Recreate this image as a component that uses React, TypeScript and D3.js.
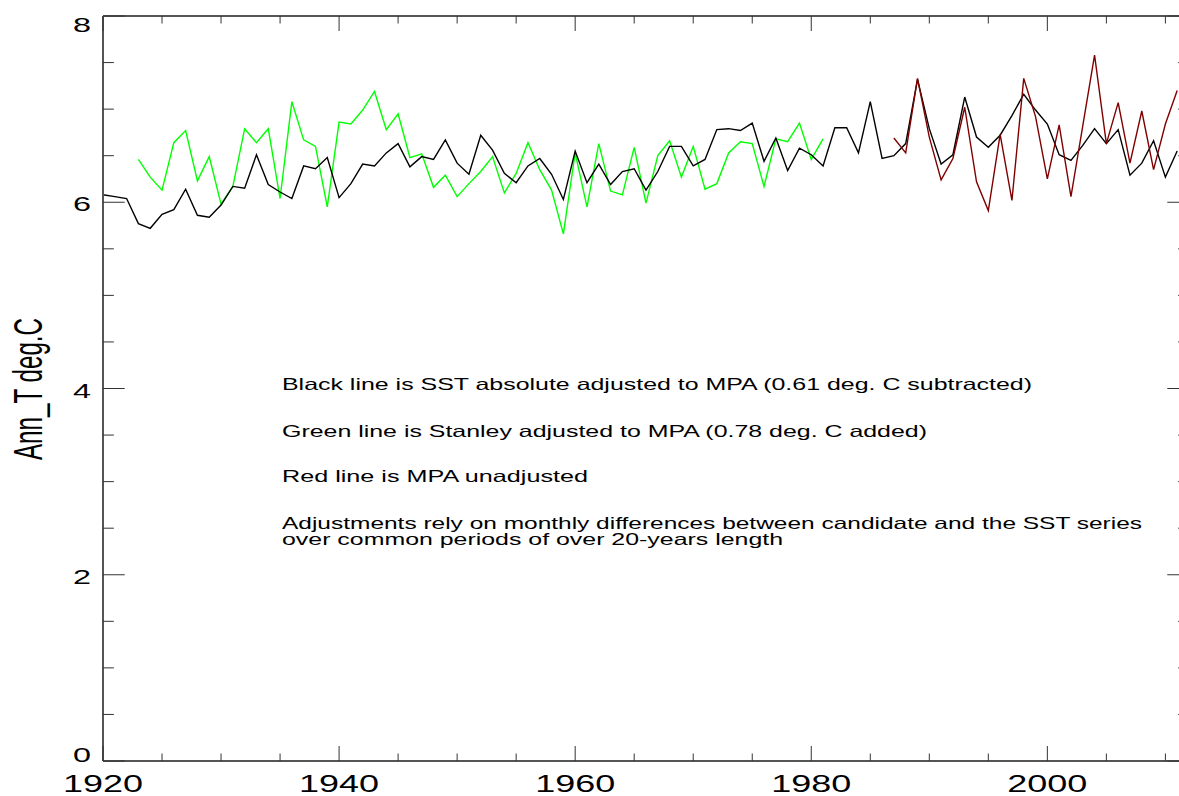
import React from "react";
import * as d3 from "d3";

const blackYears = d3.range(1920, 2012);
const blackValues = [
  6.08, 6.06, 6.04, 5.77, 5.72, 5.87, 5.92, 6.14, 5.86, 5.84,
  5.97, 6.17, 6.15, 6.51, 6.19, 6.11, 6.04, 6.39, 6.36, 6.48,
  6.05, 6.20, 6.41, 6.39, 6.53, 6.63, 6.38, 6.49, 6.46, 6.67,
  6.42, 6.30, 6.72, 6.56, 6.31, 6.21, 6.39, 6.47, 6.30, 6.03,
  6.55, 6.21, 6.41, 6.19, 6.33, 6.36, 6.13, 6.33, 6.60, 6.60,
  6.39, 6.46, 6.78, 6.79, 6.77, 6.85, 6.44, 6.69, 6.34, 6.58,
  6.51, 6.39, 6.80, 6.80, 6.53, 7.08, 6.47, 6.50, 6.63, 7.32,
  6.79, 6.41, 6.51, 7.13, 6.70, 6.59, 6.72, 6.93, 7.16, 6.99,
  6.84, 6.51, 6.45, 6.61, 6.79, 6.63, 6.78, 6.29, 6.42, 6.66,
  6.27, 6.55,
];

const greenYears = d3.range(1923, 1982);
const greenValues = [
  6.46, 6.27, 6.13, 6.64, 6.77, 6.23, 6.49, 5.98, 6.17, 6.79,
  6.64, 6.79, 6.04, 7.08, 6.67, 6.60, 5.95, 6.86, 6.84, 6.99,
  7.19, 6.78, 6.95, 6.48, 6.52, 6.16, 6.29, 6.06, 6.20, 6.33,
  6.49, 6.10, 6.31, 6.64, 6.35, 6.13, 5.66, 6.53, 5.95, 6.63,
  6.12, 6.08, 6.59, 5.99, 6.50, 6.66, 6.27, 6.60, 6.14, 6.20,
  6.53, 6.65, 6.63, 6.17, 6.68, 6.65, 6.85, 6.46, 6.68,
];

const redYears = d3.range(1987, 2012);
const redValues = [
  6.69, 6.53, 7.33, 6.70, 6.24, 6.47, 7.02, 6.22, 5.91, 6.73,
  6.02, 7.33, 6.92, 6.25, 6.83, 6.06, 6.82, 7.58, 6.63, 7.07,
  6.42, 6.98, 6.35, 6.84, 7.20,
];

const xMajorTicks = [1920, 1940, 1960, 1980, 2000];
const xMinorTicks = d3.range(1920, 2013, 5);
const yMajorTicks = [0, 2, 4, 6, 8];
const yMinorTicks = d3.range(0, 8.01, 0.5);

const notes = [
  "Black line is SST absolute adjusted to MPA (0.61 deg. C subtracted)",
  "Green line is Stanley adjusted to MPA (0.78 deg. C added)",
  "Red line is MPA unadjusted",
  "Adjustments rely on monthly differences between candidate and the SST series",
  "over common periods of over 20-years length",
];
const noteLengths = [750, 645, 306, 860, 501];
const noteBaselines = [390, 437, 482, 529, 545];

const W = 1179;
const H = 796;
const L = 103;
const R = 1189;
const T = 16;
const B = 761;

export default function App() {
  const x = d3.scaleLinear().domain([1920, 2012]).range([L, R]);
  const y = d3.scaleLinear().domain([0, 8]).range([B, T]);
  const line = d3
    .line<[number, number]>()
    .x((d) => x(d[0]))
    .y((d) => y(d[1]));

  const mk = (ys: number[], vs: number[]) =>
    ys.map((yr, i) => [yr, vs[i]] as [number, number]);

  const font = "'Liberation Sans', Arial, Helvetica, sans-serif";
  const xTickMaj = 15;
  const xTickMin = 7.5;
  const yTickMaj = 21.7;
  const yTickMin = 10.85;

  const yLabelDy = (v: number) => (v === 8 ? 16 : v === 0 ? 1 : 9);

  return (
    <svg
      width={W}
      height={H}
      style={{ position: "absolute", left: 0, top: 0, background: "#fff" }}
      fontFamily={font}
    >
      <rect x={0} y={0} width={W} height={H} fill="#fff" />
      {/* series */}
      <path d={line(mk(greenYears, greenValues)) || ""} fill="none" stroke="#00ff00" strokeWidth={1.4} />
      <path d={line(mk(blackYears, blackValues)) || ""} fill="none" stroke="#000" strokeWidth={1.4} />
      <path d={line(mk(redYears, redValues)) || ""} fill="none" stroke="#800000" strokeWidth={1.4} />

      {/* frame */}
      <g stroke="#555" strokeWidth={2} fill="none">
        <line x1={L} y1={T} x2={L} y2={B} />
        <line x1={L} y1={B} x2={R} y2={B} />
        <line x1={L} y1={T} x2={R} y2={T} />
        <line x1={R} y1={T} x2={R} y2={B} />
      </g>

      {/* ticks */}
      <g stroke="#333" strokeWidth={1}>
        {xMinorTicks.map((t) => {
          const len = xMajorTicks.includes(t) ? xTickMaj : xTickMin;
          return (
            <g key={"xt" + t}>
              <line x1={x(t)} x2={x(t)} y1={B} y2={B - len} />
              <line x1={x(t)} x2={x(t)} y1={T} y2={T + len} />
            </g>
          );
        })}
        {yMinorTicks.map((t) => {
          const len = yMajorTicks.includes(t) ? yTickMaj : yTickMin;
          return (
            <g key={"yt" + t}>
              <line x1={L} x2={L + len} y1={y(t)} y2={y(t)} />
              <line x1={R} x2={R - len} y1={y(t)} y2={y(t)} />
            </g>
          );
        })}
      </g>

      {/* x tick labels */}
      {xMajorTicks.map((t) => (
        <text
          key={"xl" + t}
          x={x(t) - 40}
          y={792}
          fontSize={23.5}
          textLength={80}
          lengthAdjust="spacingAndGlyphs"
          fill="#000"
        >
          {String(t)}
        </text>
      ))}

      {/* y tick labels */}
      {yMajorTicks.map((t) => (
        <text
          key={"yl" + t}
          x={73}
          y={y(t) + yLabelDy(t)}
          fontSize={21}
          textLength={18}
          lengthAdjust="spacingAndGlyphs"
          fill="#000"
        >
          {String(t)}
        </text>
      ))}

      {/* y axis title */}
      <text
        transform={`translate(42, ${(318 + 460) / 2}) rotate(-90)`}
        x={-71}
        y={0}
        fontSize={40}
        textLength={142}
        lengthAdjust="spacingAndGlyphs"
        fill="#000"
      >
        Ann_T deg.C
      </text>

      {/* annotations */}
      {notes.map((n, i) => (
        <text
          key={"n" + i}
          x={282}
          y={noteBaselines[i]}
          fontSize={16.5}
          textLength={noteLengths[i]}
          lengthAdjust="spacingAndGlyphs"
          fill="#000"
        >
          {n}
        </text>
      ))}
    </svg>
  );
}
